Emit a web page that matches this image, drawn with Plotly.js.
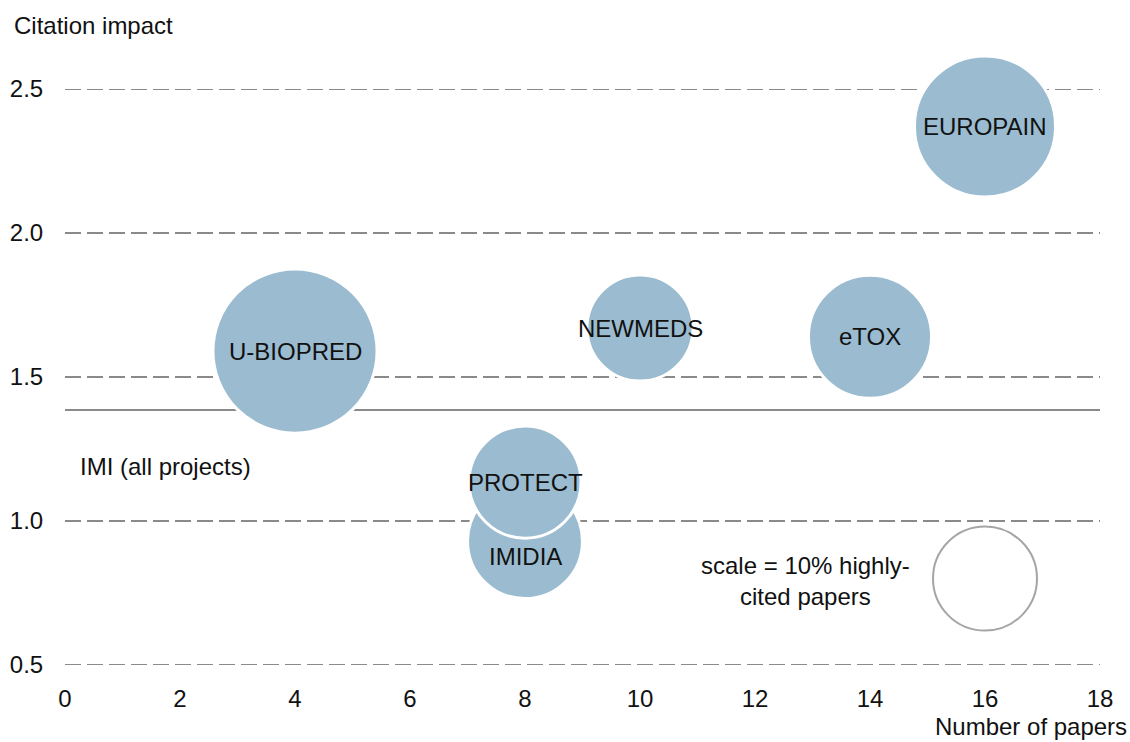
<!DOCTYPE html>
<html>
<head>
<meta charset="utf-8">
<script src="https://cdn.plot.ly/plotly-3.0.1.min.js"></script>
<style>html,body{margin:0;padding:0;background:#fff;}#chart{width:1130px;height:742px;}</style>
</head>
<body>
<div id="chart"></div>
<script>
// Data
var projects = ["U-BIOPRED", "NEWMEDS", "eTOX", "EUROPAIN", "IMIDIA", "PROTECT"];
var papers = [4, 10, 14, 16, 8, 8];
var citationImpact = [1.59, 1.67, 1.64, 2.37, 0.93, 1.135];
var highlyCitedPct = [24.9, 10.4, 14.0, 18.4, 12.2, 11.6];
var imiAllProjects = 1.385;
var scaleX = [16];
var scaleY = [0.8];
var scalePct = [10];
var xTicks = [0, 2, 4, 6, 8, 10, 12, 14, 16, 18];
var yTicks = [0.5, 1.0, 1.5, 2.0, 2.5];
var yTickLabels = ["0.5", "1.0", "1.5", "2.0", "2.5"];

// Styles
var FONT = "Liberation Sans, Arial, sans-serif";
var bubbleColor = "#9bbcd0";
var gridColor = "#8a8a8a";
var sizeRef = 2 * 10 / (104 * 104);
var labelShift = {"IMIDIA": -15};
var TXT = 24;

var bubbles = {
  type: "scatter",
  mode: "markers",
  x: papers,
  y: citationImpact,
  cliponaxis: false,
  hoverinfo: "skip",
  marker: {
    size: highlyCitedPct,
    sizemode: "area",
    sizeref: sizeRef,
    color: bubbleColor,
    opacity: 1,
    line: {color: "#ffffff", width: 3}
  }
};

var scaleCircle = {
  type: "scatter",
  mode: "markers",
  x: scaleX,
  y: scaleY,
  cliponaxis: false,
  hoverinfo: "skip",
  marker: {
    size: scalePct,
    sizemode: "area",
    sizeref: sizeRef,
    color: "rgba(255,255,255,0)",
    line: {color: "#808080", width: 2}
  }
};

var annotations = projects.map(function (p, i) {
  return {
    x: papers[i], y: citationImpact[i], xref: "x", yref: "y",
    text: p, showarrow: false, xanchor: "center", yanchor: "middle",
    yshift: labelShift[p] || 0,
    font: {family: FONT, size: TXT, color: "#111"}
  };
});
annotations.push({
  xref: "paper", yref: "paper", x: -0.051, y: 1.111,
  text: "Citation impact", showarrow: false, xanchor: "left", yanchor: "middle",
  font: {family: FONT, size: TXT, color: "#111"}
});
annotations.push({
  xref: "paper", yref: "paper", x: 1.028, y: -0.106,
  text: "Number of papers", showarrow: false, xanchor: "right", yanchor: "middle",
  font: {family: FONT, size: TXT, color: "#111"}
});
annotations.push({
  xref: "x", yref: "y", x: 0.22, y: 1.19,
  text: "IMI (all projects)", showarrow: false, xanchor: "left", yanchor: "middle",
  font: {family: FONT, size: TXT, color: "#111"}
});
annotations.push({
  xref: "x", yref: "y", x: 12.87, y: 0.79,
  text: "scale = 10% highly-<br>cited papers", showarrow: false, align: "center",
  xanchor: "center", yanchor: "middle",
  font: {family: FONT, size: TXT, color: "#111"}
});

var shapes = yTicks.map(function (v) {
  return {
    type: "line", xref: "paper", yref: "y", x0: 0, x1: 1, y0: v, y1: v,
    layer: "between", line: {color: gridColor, width: 2.2, dash: "16px,6px"}
  };
});
shapes.push({
  type: "line", xref: "paper", yref: "y", x0: 0, x1: 1,
  y0: imiAllProjects, y1: imiAllProjects, layer: "between",
  line: {color: gridColor, width: 2}
});

var layout = {
  width: 1130, height: 742,
  margin: {l: 65, r: 30, t: 89, b: 77, pad: 0},
  paper_bgcolor: "#fff", plot_bgcolor: "#fff",
  showlegend: false,
  font: {family: FONT, size: TXT, color: "#111"},
  xaxis: {
    range: [0, 18], tickvals: xTicks, ticktext: xTicks.map(String),
    showgrid: false, zeroline: false, showline: false,
    ticks: "outside", ticklen: 12, tickcolor: "rgba(0,0,0,0)",
    tickfont: {family: FONT, size: TXT, color: "#111"}
  },
  yaxis: {
    range: [0.5, 2.5], tickvals: yTicks, ticktext: yTickLabels,
    showgrid: false, zeroline: false, showline: false,
    ticks: "outside", ticklen: 16, tickcolor: "rgba(0,0,0,0)",
    tickfont: {family: FONT, size: TXT, color: "#111"}
  },
  shapes: shapes,
  annotations: annotations
};

Plotly.newPlot("chart", [bubbles, scaleCircle], layout, {staticPlot: true, displayModeBar: false});
</script>
</body>
</html>
